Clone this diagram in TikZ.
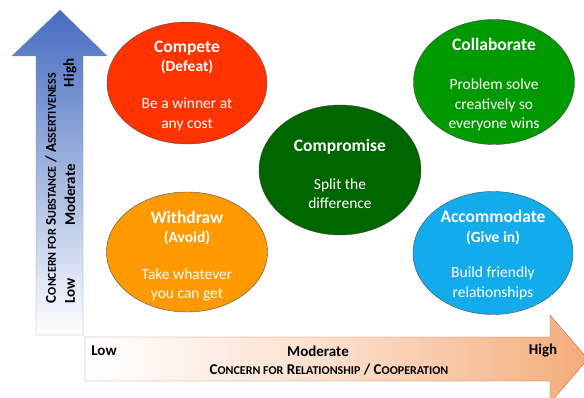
\documentclass[tikz,border=0pt]{standalone}
\usepackage{fontspec}
\setmainfont{Carlito}
\usetikzlibrary{shapes.geometric}
\definecolor{cmpred}{RGB}{255,51,0}
\definecolor{cmpdkgreen}{RGB}{0,102,0}
\definecolor{colgreen}{RGB}{0,153,0}
\definecolor{wdorange}{RGB}{255,153,0}
\definecolor{accblue}{RGB}{18,172,236}
\definecolor{axblue}{RGB}{68,108,192}
\definecolor{axblueline}{RGB}{120,140,175}
\definecolor{axorange}{RGB}{244,172,122}
\definecolor{axorangeline}{RGB}{185,110,72}
\newcommand{\btitle}[1]{{\fontsize{17.5}{20}\selectfont\bfseries #1}}
\newcommand{\bsub}[1]{{\bfseries #1}}
\newcommand{\scap}[2]{#1{\fontsize{12}{12}\selectfont #2}}

\begin{document}
\begin{tikzpicture}[x=1pt,y=-1pt,
  bubble/.style={draw=black!70, thin, ellipse, inner sep=0pt},
  btext/.style={align=center, text=white, inner sep=0pt, font=\fontsize{15.5}{19.5}\selectfont},
  axlbl/.style={font=\fontsize{15}{15}\selectfont\bfseries, inner sep=0pt},
  axttl/.style={font=\fontsize{15}{15}\selectfont\bfseries, inner sep=0pt},
]
\useasboundingbox (0,0) rectangle (584,398);

% axes
\draw[axblueline, top color=axblue, bottom color=white]
  (36,335) -- (36,56) -- (12,56) -- (60,10) -- (107,56) -- (83,56) -- (83,335) -- cycle;
\draw[axorangeline, left color=white, right color=axorange, middle color=white!60!axorange]
  (85,337) -- (550,337) -- (550,315) -- (588,359) -- (550,403) -- (550,381) -- (85,381) -- cycle;

\node[axttl, rotate=90] (ylabel) at (51,188)
  {\scap{C}{ONCERN FOR} \scap{S}{UBSTANCE} / \scap{A}{SSERTIVENESS}};
\node[axlbl, rotate=90] (ylow) at (70,291) {Low};
\node[axlbl, rotate=90] (ymod) at (70,195) {Moderate};
\node[axlbl, rotate=90] (yhigh) at (70,73) {High};

\node[axlbl] (xlow) at (104,351) {Low};
\node[axlbl] (xmod) at (318,351) {Moderate};
\node[axlbl] (xhigh) at (543,351) {High};
\node[axttl] (xlabel) at (329,370)
  {\scap{C}{ONCERN FOR} \scap{R}{ELATIONSHIP} / \scap{C}{OOPERATION}};

% styles
\node[bubble, fill=cmpred, minimum width=160pt, minimum height=122pt] (compete) at (187,83) {};
\node[btext, yshift=-3pt] (competetxt) at (compete.center)
  {\btitle{Compete}\\ \bsub{(Defeat)}\\[17.5pt] Be a winner at\\ any cost};

\node[bubble, fill=colgreen, minimum width=161pt, minimum height=125pt] (collab) at (494,82) {};
\node[btext, yshift=-3pt] (collabtxt) at (collab.center)
  {\btitle{Collaborate}\\[19.5pt] Problem solve\\ creatively so\\ everyone wins};

\node[bubble, fill=cmpdkgreen, minimum width=162pt, minimum height=130pt] (compro) at (340,170) {};
\node[btext, yshift=-4pt] (comprotxt) at (compro.center)
  {\btitle{Compromise}\\[18.5pt] Split the\\ difference};

\node[bubble, fill=wdorange, minimum width=161pt, minimum height=120pt] (withdraw) at (187,252) {};
\node[btext, yshift=-4pt] (withdrawtxt) at (withdraw.center)
  {\btitle{Withdraw}\\ \bsub{(Avoid)}\\[17pt] Take whatever\\ you can get};

\node[bubble, fill=accblue, minimum width=160pt, minimum height=123pt] (accom) at (493,253) {};
\node[btext, yshift=-2pt] (accomtxt) at (accom.center)
  {\btitle{Accommodate}\\ \bsub{(Give in)}\\[16pt] Build friendly\\ relationships};
\end{tikzpicture}
\end{document}
